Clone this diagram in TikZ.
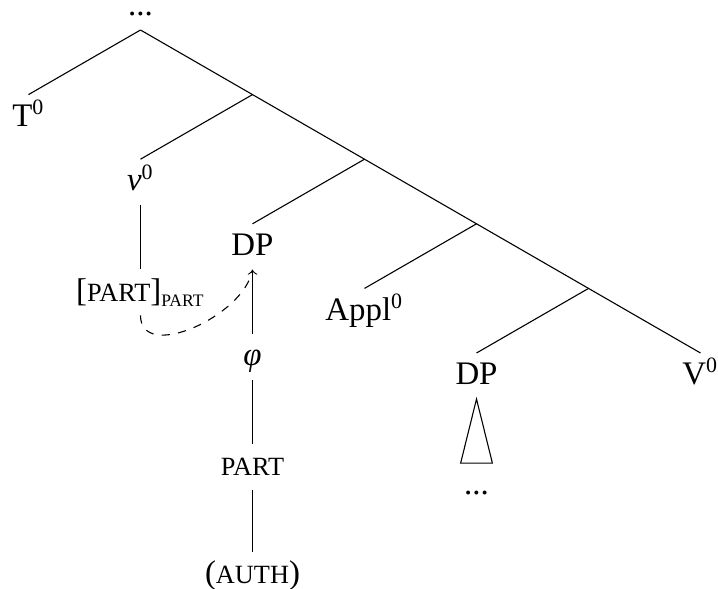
\documentclass[tikz,border=0pt]{standalone}
\usepackage{fontspec}
\setmainfont{Liberation Serif}
\usepackage{graphicx}
\usetikzlibrary{positioning}
\newcommand{\fsc}[1]{\scalebox{0.8}{#1}}
\tikzset{
  lbl/.style={inner sep=0pt, text height=11.4pt, text depth=5pt, anchor=north,
    font=\fontsize{12pt}{14pt}\selectfont},
  branch/.style={line width=0.4pt},
}
\begin{document}
\begin{tikzpicture}[x=0.365pt, y=-0.365pt, node distance=23.4pt]
  \useasboundingbox (0,0) rectangle (718,588);
  \pgfmathsetmacro{\width}{112}
  \pgfmathsetmacro{\height}{64.6}

  % spine
  \coordinate (b0) at (140.5, 30);
  \node[lbl, anchor=south, text height=2pt] (top) at (b0) {...};
  \foreach \k in {1,...,4} {
    \coordinate (b\k) at (140.5+\k*\width, 30+\k*\height);
  }
  \node[lbl] (vzero) at (140.5+5*\width, 30+5*\height) {V\textsuperscript{0}};
  \draw[branch] (b0) -- (b1) -- (b2) -- (b3) -- (b4) -- (vzero.north);

  % left daughters
  \foreach \name/\txt [count=\k from 0] in {tzero/T\textsuperscript{0}, lv/\textit{v}\textsuperscript{0}, dpa/DP, appl/Appl\textsuperscript{0}, dpb/DP} {
    \node[lbl] (\name) at (140.5+\k*\width-\width, 30+\k*\height+\height) {\txt};
    \draw[branch] (b\k) -- (\name.north);
  }

  % feature stacks
  \node[lbl, below=of lv] (partv) {[\fsc{PART}]\textsubscript{\fsc{PART}}};
  \node[lbl, below=of dpa] (phi) {\textit{φ}};
  \node[lbl, below=of phi] (part) {\fsc{PART}};
  \node[lbl, below=22.6pt of part, text depth=2.5pt] (auth) {(\fsc{AUTH})};
  \draw[branch] (lv.south) -- (partv.north);
  \draw[branch, ->] (phi.north) -- (dpa.south);
  \draw[branch] (phi.south) -- (part.north);
  \draw[branch] (part.south) -- (auth.north);
  \draw[branch, dashed] (partv.south) to[out=-90, in=-100] (dpa.south);

  % roof
  \node[lbl, below=of dpb] (dpbx) {...};
  \draw[branch] (dpb.south) -- ([xshift=-5.8pt]dpbx.north) -- ([xshift=5.8pt]dpbx.north) -- cycle;
\end{tikzpicture}
\end{document}
